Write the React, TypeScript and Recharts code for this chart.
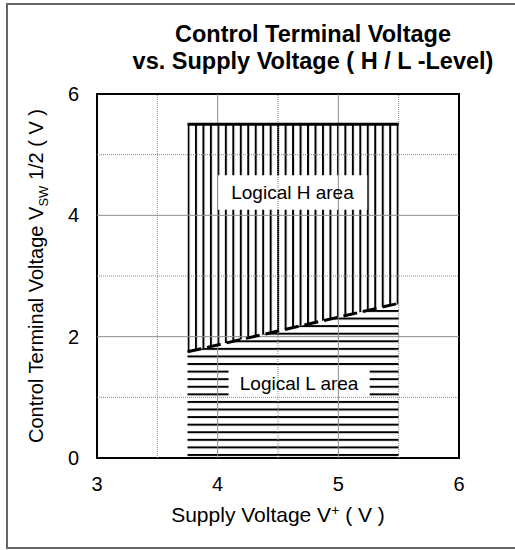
import React from "react";
import {
  ComposedChart,
  Area,
  Line,
  XAxis,
  YAxis,
  ReferenceLine,
  ReferenceArea,
  Label,
} from "recharts";

// supply voltage range covered by the H / L areas
const supplyV = [3.75, 5.5];
// H / L threshold (dashed line)
const thresholdV = [1.75, 2.55];
// upper limit of the H area
const hUpperV = [5.5, 5.5];

const xTicks = [3, 4, 5, 6];
const yTicks = [0, 2, 4, 6];
const xMajorGrid = [4, 5];
const xMinorGrid = [3.5, 4.5, 5.5];
const yMajorGrid = [2, 4];
const yMinorGrid = [1, 3, 5];

const data = supplyV.map((x, i) => ({
  x,
  th: thresholdV[i],
  top: hUpperV[i],
  hRange: [thresholdV[i], hUpperV[i]],
}));

const FONT = "'Liberation Sans', Arial, Helvetica, sans-serif";

const YTitle = (props: any) => {
  const vb = props.viewBox;
  const cy = vb.y + vb.height / 2;
  return (
    <text
      transform={`translate(43, ${cy}) rotate(-90)`}
      textAnchor="middle"
      fontSize={20}
      fill="#000"
    >
      Control Terminal Voltage V
      <tspan dy={5} fontSize={13}>SW</tspan>
      <tspan dy={-5}> 1/2 ( V )</tspan>
    </text>
  );
};

const XTitle = (props: any) => {
  const vb = props.viewBox;
  return (
    <text x={vb.x + vb.width / 2} y={vb.y + 64} textAnchor="middle" fontSize={21} fill="#000">
      Supply Voltage V
      <tspan dy={-7} fontSize={14}>+</tspan>
      <tspan dy={7}> ( V )</tspan>
    </text>
  );
};

const layer: React.CSSProperties = { position: "absolute", left: 0, top: 0 };

export default function App() {
  return (
    <div style={{ position: "absolute", left: 0, top: 0, width: 515, height: 550, fontFamily: FONT, background: "#fff" }}>
      <div
        style={{
          position: "absolute",
          left: 6,
          top: 3,
          width: 520,
          height: 546,
          border: "2px solid #666",
          boxSizing: "border-box",
        }}
      />
      <div
        style={{
          position: "absolute",
          left: 113,
          top: 21,
          width: 400,
          textAlign: "center",
          fontWeight: "bold",
          fontSize: 23.5,
          lineHeight: "27px",
          color: "#000",
        }}
      >
        Control Terminal Voltage
        <br />
        vs. Supply Voltage ( H / L -Level)
      </div>

      {/* hatched areas, drawn below the grid */}
      <div style={layer}>
        <ComposedChart width={515} height={550} data={data} margin={{ top: 94, right: 56, left: 97, bottom: 92 }}>
          <defs>
            <pattern id="vHatch" patternUnits="userSpaceOnUse" x={187.5} y={0} width={7.471} height={10}>
              <rect x={0} y={0} width={2} height={10} fill="#000" />
            </pattern>
            <pattern id="hHatch" patternUnits="userSpaceOnUse" x={0} y={454} width={10} height={7.58}>
              <rect x={0} y={0} width={10} height={2} fill="#000" />
            </pattern>
          </defs>
          <XAxis dataKey="x" type="number" domain={[3, 6]} hide />
          <YAxis type="number" domain={[0, 6]} hide />
          <Area
            type="linear"
            dataKey="th"
            baseValue={0}
            stroke="none"
            fill="url(#hHatch)"
            fillOpacity={1}
            isAnimationActive={false}
          />
          <Area
            type="linear"
            dataKey="hRange"
            stroke="none"
            fill="url(#vHatch)"
            fillOpacity={1}
            isAnimationActive={false}
          />
        </ComposedChart>
      </div>

      {/* grid, labels, lines and axes on top */}
      <div style={layer}>
        <ComposedChart width={515} height={550} data={data} margin={{ top: 94, right: 56, left: 0, bottom: 0 }}>
          <XAxis
            dataKey="x"
            type="number"
            domain={[3, 6]}
            ticks={xTicks}
            height={92}
            axisLine={false}
            tickLine={false}
            tickSize={6}
            tickMargin={13}
            tick={{ fill: "#000", fontSize: 20 }}
          >
            <Label content={XTitle} />
          </XAxis>
          <YAxis
            type="number"
            domain={[0, 6]}
            ticks={yTicks}
            width={97}
            axisLine={false}
            tickLine={false}
            tickSize={6}
            tickMargin={12}
            tick={{ fill: "#000", fontSize: 20 }}
          >
            <Label content={YTitle} />
          </YAxis>
          {xMinorGrid.map((v) => (
            <ReferenceLine key={"xm" + v} x={v} stroke="#888" strokeDasharray="1 1" />
          ))}
          {yMinorGrid.map((v) => (
            <ReferenceLine key={"ym" + v} y={v} stroke="#888" strokeDasharray="1 1" />
          ))}
          {xMajorGrid.map((v) => (
            <ReferenceLine key={"xM" + v} x={v} stroke="#8c8c8c" />
          ))}
          {yMajorGrid.map((v) => (
            <ReferenceLine key={"yM" + v} y={v} stroke="#8c8c8c" />
          ))}
          <ReferenceArea
            x1={4.0}
            x2={5.24}
            y1={4.09}
            y2={4.66}
            fill="#fff"
            fillOpacity={1}
            stroke="none"
            label={{ value: "Logical H area", position: "center", fill: "#000", fontSize: 19 }}
          />
          <ReferenceArea
            x1={4.09}
            x2={5.26}
            y1={0.99}
            y2={1.48}
            fill="#fff"
            fillOpacity={1}
            stroke="none"
            label={{ value: "Logical L area", position: "center", fill: "#000", fontSize: 19 }}
          />
          <Line
            type="linear"
            dataKey="th"
            stroke="#000"
            strokeWidth={3}
            strokeDasharray="14 6"
            dot={false}
            isAnimationActive={false}
          />
          <Line
            type="linear"
            dataKey="top"
            stroke="#000"
            strokeWidth={3}
            dot={false}
            isAnimationActive={false}
          />
          <ReferenceArea
            x1={3}
            x2={6}
            y1={0}
            y2={6}
            fill="none"
            stroke="#000"
            strokeWidth={2}
            ifOverflow="visible"
          />
        </ComposedChart>
      </div>
    </div>
  );
}
